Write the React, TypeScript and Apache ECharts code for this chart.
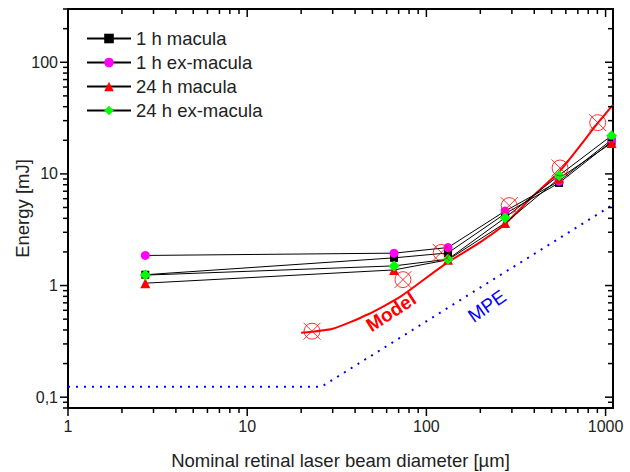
import React, { useEffect, useRef } from "react";
import * as echarts from "echarts";

const FONT = "'Liberation Sans', Arial, sans-serif";

// Data (diameter in µm, energy in mJ)
const diameters = [2.7, 66, 132, 275, 550, 1080];
const macula1h = [1.25, 1.77, 1.96, 4.4, 8.3, 19.5];
const exMacula1h = [1.86, 1.95, 2.19, 4.65, 8.6, 20.2];
const macula24h = [1.05, 1.38, 1.7, 3.63, 9.1, 18.9];
const exMacula24h = [1.24, 1.5, 1.72, 4.05, 9.7, 22.0];

const modelPointD = [23, 74, 121, 290, 557, 904];
const modelPointE = [0.39, 1.13, 1.98, 5.2, 11.3, 28.8];

const modelCurveD = [20, 30, 47, 72, 126, 200, 272, 392, 552, 904, 1100];
const modelCurveE = [0.377, 0.41, 0.55, 0.8, 1.54, 2.45, 3.5, 6.3, 10.5, 28.5, 41.5];

const mpeD = [1, 26, 1100];
const mpeE = [0.124, 0.124, 5.3];

const xMajorTicks = [1, 10, 100, 1000];
const yMajorTicks = [0.1, 1, 10, 100];
const xDecades = [1, 10, 100];
const yDecades = [0.01, 0.1, 1, 10, 100];

const X_MIN = 1, X_MAX = 1100, Y_MIN = 0.08, Y_MAX = 300;

const minorOf = (decades: number[], lo: number, hi: number) => {
  const out: number[] = [];
  decades.forEach((d) => {
    for (let k = 2; k <= 9; k++) {
      const v = +(d * k).toPrecision(6);
      if (v >= lo - 1e-9 && v <= hi + 1e-9) out.push(v);
    }
  });
  return out;
};

const pair = (xs: number[], ys: number[]) => xs.map((x, i) => [x, ys[i]]);

const decadeLabel = (v: number) => {
  const l = Math.log10(v);
  if (Math.abs(l - Math.round(l)) > 1e-6) return "";
  const r = Math.round(l);
  if (r < 0) return "0,1";
  return String(Math.round(Math.pow(10, r)));
};

function tickSeries(kind: "x" | "y", values: number[], len: number) {
  return {
    type: "custom",
    silent: true,
    clip: false,
    z: 10,
    data: values.map((v) => (kind === "x" ? [v, 1] : [10, v])),
    renderItem: (params: any, api: any) => {
      const cs = params.coordSys;
      const st = { stroke: "#000", lineWidth: 1.5 };
      if (kind === "x") {
        const px = api.coord([api.value(0), 1])[0];
        const b = cs.y + cs.height;
        const t = cs.y;
        return {
          type: "group",
          children: [
            { type: "line", shape: { x1: px, y1: b, x2: px, y2: b + len }, style: st },
            { type: "line", shape: { x1: px, y1: t, x2: px, y2: t + len }, style: st },
          ],
        };
      }
      const py = api.coord([10, api.value(1)])[1];
      const l = cs.x;
      const r = cs.x + cs.width;
      return {
        type: "group",
        children: [
          { type: "line", shape: { x1: l - len, y1: py, x2: l, y2: py }, style: st },
          { type: "line", shape: { x1: r - len, y1: py, x2: r, y2: py }, style: st },
        ],
      };
    },
  };
}

const baseAxis = {
  type: "log",
  logBase: 10,
  axisTick: { show: false },
  splitLine: { show: false },
  minorTick: { show: false },
  nameMoveOverlap: false,
  axisLine: { show: true, onZero: false, lineStyle: { color: "#000", width: 2 } },
};

export default function App() {
  const ref = useRef<HTMLDivElement>(null);
  useEffect(() => {
    if (!ref.current) return;
    const chart = echarts.init(ref.current, undefined, { renderer: "svg" });
    const dataLine = (name: string, ys: number[], symbol: string, size: number, color: string) => ({
      name,
      type: "line",
      data: pair(diameters, ys),
      symbol,
      symbolSize: size,
      itemStyle: { color },
      lineStyle: { color: "#000", width: 1 },
      z: 3,
    });
    const circleX =
      "path://M0,-7.5A7.5,7.5,0,1,1,0,7.5A7.5,7.5,0,1,1,0,-7.5ZM-8,-8L8,8M-8,8L8,-8";
    chart.setOption({
      animation: false,
      grid: {
        left: 68,
        right: 17,
        top: 9,
        bottom: 64,
        containLabel: false,
        outerBoundsMode: "none",
      },
      legend: {
        data: ["1 h macula", "1 h ex-macula", "24 h macula", "24 h ex-macula"],
        orient: "vertical",
        left: 86,
        top: 29,
        padding: 0,
        itemWidth: 44,
        itemHeight: 12,
        itemGap: 5,
        textStyle: { fontSize: 18.5, color: "#222", fontFamily: FONT },
      },
      xAxis: [
        {
          ...baseAxis,
          min: X_MIN,
          max: X_MAX,
          position: "bottom",
          axisLabel: {
            formatter: decadeLabel,
            fontSize: 16,
            color: "#222",
            margin: 10,
            fontFamily: FONT,
            showMaxLabel: false,
          },
          name: "Nominal retinal laser beam diameter [µm]",
          nameLocation: "middle",
          nameGap: 43,
          nameTextStyle: { fontSize: 18.5, color: "#222", fontFamily: FONT },
        },
        {
          ...baseAxis,
          min: X_MIN,
          max: X_MAX,
          position: "top",
          axisLabel: { show: false },
        },
      ],
      yAxis: [
        {
          ...baseAxis,
          min: Y_MIN,
          max: Y_MAX,
          position: "left",
          axisLabel: {
            formatter: decadeLabel,
            fontSize: 16,
            color: "#222",
            margin: 10,
            fontFamily: FONT,
            showMinLabel: false,
            showMaxLabel: false,
          },
          name: "Energy [mJ]",
          nameLocation: "middle",
          nameGap: 36,
          nameTextStyle: { fontSize: 18.5, color: "#222", fontFamily: FONT },
        },
        {
          ...baseAxis,
          min: Y_MIN,
          max: Y_MAX,
          position: "right",
          axisLabel: { show: false },
        },
      ],
      series: [
        {
          name: "MPE",
          type: "line",
          data: pair(mpeD, mpeE),
          symbol: "none",
          lineStyle: { color: "#0000ff", width: 2, type: [2, 6] },
          z: 1,
        },
        {
          name: "Model",
          type: "line",
          data: pair(modelCurveD, modelCurveE),
          symbol: "none",
          smooth: 0.2,
          lineStyle: { color: "#ff0000", width: 2 },
          z: 2,
        },
        dataLine("1 h macula", macula1h, "rect", 8, "#000000"),
        dataLine("1 h ex-macula", exMacula1h, "circle", 9, "#ff00ff"),
        dataLine("24 h macula", macula24h, "triangle", 10, "#ff0000"),
        dataLine("24 h ex-macula", exMacula24h, "diamond", 11, "#00ff00"),
        {
          name: "Model points",
          type: "scatter",
          data: pair(modelPointD, modelPointE),
          symbol: circleX,
          symbolSize: 17,
          symbolKeepAspect: true,
          itemStyle: { color: "none", borderColor: "#ff0000", borderWidth: 1 },
          z: 4,
        },
        tickSeries("x", xMajorTicks, 8),
        tickSeries("x", minorOf(xDecades, X_MIN, X_MAX), 5),
        tickSeries("y", yMajorTicks, 8),
        tickSeries("y", minorOf(yDecades, Y_MIN, Y_MAX), 5),
      ],
      graphic: [
        {
          type: "text",
          x: 391,
          y: 312,
          rotation: (33 * Math.PI) / 180,
          style: {
            text: "Model",
            fill: "#ff0000",
            font: `bold 19px ${FONT}`,
            textAlign: "center",
            textVerticalAlign: "middle",
          },
        },
        {
          type: "text",
          x: 487,
          y: 306,
          rotation: (35 * Math.PI) / 180,
          style: {
            text: "MPE",
            fill: "#0000ff",
            font: `19px ${FONT}`,
            textAlign: "center",
            textVerticalAlign: "middle",
          },
        },
      ],
    });
    return () => chart.dispose();
  }, []);
  return (
    <div
      ref={ref}
      style={{ position: "fixed", left: 0, top: 0, width: 630, height: 472, background: "#fff" }}
    />
  );
}
